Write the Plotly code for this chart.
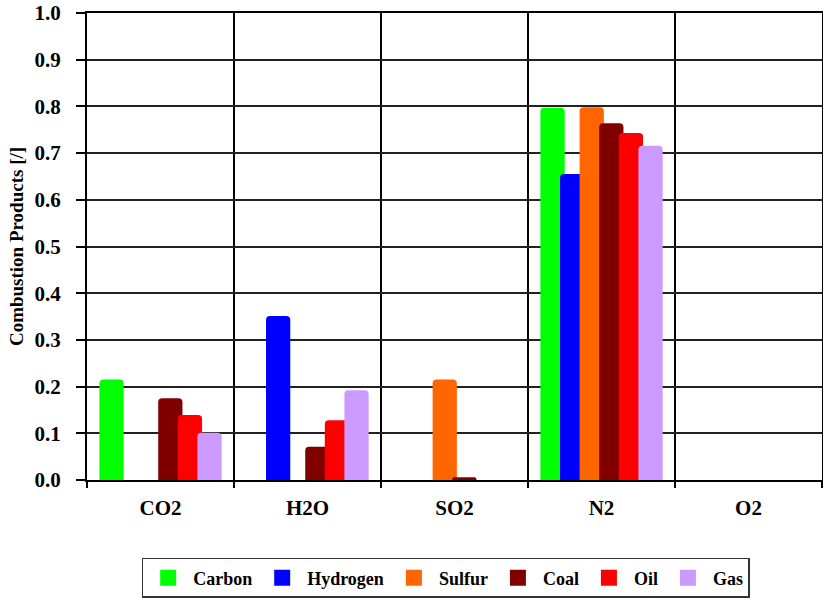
import plotly.graph_objects as go

categories = ["CO2", "H2O", "SO2", "N2", "O2"]
series_names = ["Carbon", "Hydrogen", "Sulfur", "Coal", "Oil", "Gas"]
carbon = [0.215, 0.0, 0.0, 0.797, 0.0]
hydrogen = [0.0, 0.351, 0.0, 0.655, 0.0]
sulfur = [0.0, 0.0, 0.215, 0.798, 0.0]
coal = [0.175, 0.071, 0.006, 0.764, 0.0]
oil = [0.139, 0.128, 0.0, 0.743, 0.0]
gas = [0.101, 0.192, 0.0, 0.716, 0.0]
y_ticks = [round(i * 0.1, 1) for i in range(11)]

series_values = [carbon, hydrogen, sulfur, coal, oil, gas]
colors = ["#00FF00", "#0000FF", "#FF6600", "#800000", "#FF0000", "#CC99FF"]

FONT = "Liberation Serif"
bar_w = 0.165
step = 0.1333

fig = go.Figure()
for i, (name, vals, col) in enumerate(zip(series_names, series_values, colors)):
    center = -0.333 + step * i
    fig.add_trace(go.Bar(
        x=categories, y=vals, name=name, showlegend=False,
        marker=dict(color=col, line=dict(width=0), cornerradius=4),
        width=bar_w, offset=center - bar_w / 2,
    ))
# legend entries with larger square swatches
for name, col in zip(series_names, colors):
    fig.add_trace(go.Scatter(
        x=[None], y=[None], name=name, mode="markers",
        marker=dict(symbol="square", size=16, color=col),
    ))

fig.update_layout(
    width=823, height=602,
    barmode="overlay",
    paper_bgcolor="white", plot_bgcolor="white",
    margin=dict(l=87, r=1, t=13, b=122, autoexpand=False),
    font=dict(family=FONT, color="black"),
    showlegend=True,
    legend=dict(
        orientation="h", x=0.488, xanchor="center", y=-0.167, yanchor="top",
        bordercolor="#333333", borderwidth=1.5,
        font=dict(family=FONT, size=18, color="black", weight="bold"),
        itemwidth=40, bgcolor="white", tracegroupgap=0,
    ),
    xaxis=dict(
        type="category", tickson="boundaries", ticks="outside", ticklen=6,
        tickcolor="black", tickwidth=1.5,
        showgrid=True, gridcolor="black", gridwidth=1.5,
        showline=True, linecolor="black", linewidth=1.5, mirror=True,
        tickfont=dict(family=FONT, size=21, color="black", weight="bold"),
        ticklabelstandoff=8,
        range=[-0.5, 4.5],
    ),
    yaxis=dict(
        range=[0, 1.0], tickvals=y_ticks, tickformat=".1f",
        ticks="outside", ticklen=9, tickcolor="black", tickwidth=1.5,
        showgrid=True, gridcolor="#222222", gridwidth=1.5,
        showline=True, linecolor="black", linewidth=2, mirror="ticks",
        tickfont=dict(family=FONT, size=21, color="black", weight="bold"),
        ticklabelstandoff=11, ticklabeloverflow="allow",
        title=dict(text="Combustion Products [/]", standoff=6,
                   font=dict(family=FONT, size=19, color="black", weight="bold")),
        zeroline=False,
    ),
)

# remove the browser's default 8px body margin so the figure sits at (0, 0)
fig.write_html("out.html", config={"displayModeBar": False},
               post_script="document.body.style.margin='0px';")
